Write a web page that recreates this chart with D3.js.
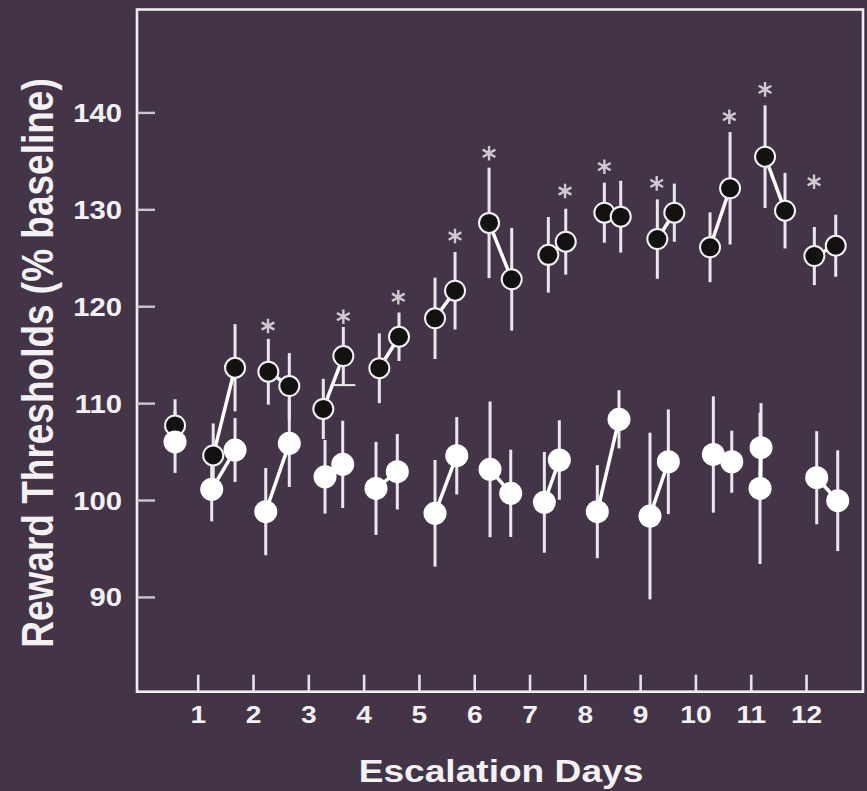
<!DOCTYPE html>
<html>
<head>
<meta charset="utf-8">
<script src="https://cdn.jsdelivr.net/npm/d3@7"></script>
<style>
  html, body { margin: 0; padding: 0; background: #433547; }
  #viz_container { width: 867px; height: 791px; }
  text { font-family: "Liberation Sans", Arial, Helvetica, sans-serif; font-weight: bold; }
</style>
</head>
<body>
<div id="viz_container"></div>
<script>
// Escalation days on x, thresholds in % of baseline on y
const dayTicks = [1, 2, 3, 4, 5, 6, 7, 8, 9, 10, 11, 12];
const yTickValues = [90, 100, 110, 120, 130, 140];

// baseline session (before escalation)
const baseDay = 0.59;
const baseEscMean = 107.7;
const baseEscSem = 2.7;
const baseCtlMean = 106.0;
const baseCtlSem = 3.2;

// escalation group (black dots), two sessions per day
const escDay = [1.28, 1.675, 2.277, 2.656, 3.271, 3.633, 4.284, 4.64, 5.291, 5.653, 6.268, 6.678,
  7.34, 7.655, 8.353, 8.649, 9.311, 9.618, 10.264, 10.626, 11.259, 11.62, 12.15, 12.537];
const escMean = [104.6, 113.65, 113.24, 111.76, 109.4, 114.86, 113.6, 116.85, 118.75, 121.6, 128.6, 122.78,
  125.3, 126.66, 129.65, 129.24, 126.93, 129.65, 126.08, 132.17, 135.43, 129.86, 125.18, 126.24];
const escSem = [3.3, 4.5, 3.4, 3.4, 3.1, 3.0, 3.6, 2.5, 4.2, 4.0, 5.7, 5.3,
  3.9, 3.4, 3.1, 3.7, 4.1, 3.0, 3.6, 5.8, 5.3, 3.9, 3.0, 3.2];

// control group (white dots)
const ctlDay = [1.253, 1.675, 2.23, 2.656, 3.302, 3.622, 4.224, 4.609, 5.291, 5.684, 6.286, 6.66,
  7.268, 7.539, 8.226, 8.618, 9.178, 9.51, 10.324, 10.657, 11.186, 11.168, 12.193, 12.573];
const ctlMean = [101.1, 105.16, 98.8, 105.85, 102.4, 103.68, 101.2, 102.92, 98.63, 104.57, 103.17, 100.69,
  99.76, 104.13, 98.8, 108.33, 98.35, 103.95, 104.7, 103.95, 105.4, 101.2, 102.3, 99.93];
const ctlSem = [3.3, 3.3, 4.5, 4.5, 3.8, 4.5, 4.8, 3.9, 5.5, 4.0, 7.0, 4.5,
  5.2, 4.1, 4.8, 3.0, 8.6, 5.4, 6.0, 3.2, 4.6, 7.8, 4.8, 5.2];

// significance asterisks
const starDay = [2.271, 3.633, 4.627, 5.653, 6.268, 7.642, 8.353, 9.3, 10.613, 11.259, 12.145];
const starValue = [117.96, 118.92, 120.92, 127.24, 135.78, 131.89, 134.4, 132.68, 139.56, 142.38, 132.85];

const width = 867;
const height = 791;
const plotLeft = 137, plotRight = 863, plotTop = 9.5, plotBottom = 691.7;

const svg = d3
  .select("#viz_container")
  .append("svg")
  .attr("width", width)
  .attr("height", height)
  .attr("viewBox", `0 0 ${width} ${height}`);

svg.append("rect").attr("width", width).attr("height", height).attr("fill", "#433547");

const x = d3.scaleLinear().domain([-0.098, 13.03]).range([plotLeft, plotRight]);
const y = d3.scaleLinear().domain([80.22, 150.62]).range([plotBottom, plotTop]);

// frame
svg
  .append("rect")
  .attr("x", plotLeft)
  .attr("y", plotTop)
  .attr("width", plotRight - plotLeft)
  .attr("height", plotBottom - plotTop)
  .attr("fill", "none")
  .attr("stroke", "#f1eef3")
  .attr("stroke-width", 2.6);

// y axis, ticks pointing inward
const yAxis = svg
  .append("g")
  .attr("transform", `translate(${plotLeft},0)`)
  .call(d3.axisLeft(y).tickValues(yTickValues).tickSizeInner(-18).tickSizeOuter(0).tickPadding(15));
yAxis.select(".domain").remove();
yAxis.selectAll("line").attr("stroke", "#cbc5ce").attr("stroke-width", 2.4);
yAxis
  .selectAll("text")
  .attr("x", -15 / 1.17)
  .attr("dy", "0.36em")
  .attr("transform", "scale(1.17,1)")
  .attr("fill", "#f3f1f4")
  .style("font-size", "25px")
  .style("font-family", "'Liberation Sans', Arial, sans-serif")
  .style("font-weight", "bold");

// x axis
const xAxis = svg
  .append("g")
  .attr("transform", `translate(0,${plotBottom})`)
  .call(d3.axisBottom(x).tickValues(dayTicks).tickSizeInner(-17).tickSizeOuter(0).tickPadding(14));
xAxis.select(".domain").remove();
xAxis.selectAll("line").attr("stroke", "#e6e2e8").attr("stroke-width", 2.6);
xAxis
  .selectAll("text")
  .attr("transform", "scale(1.17,1)")
  .attr("fill", "#f3f1f4")
  .style("font-size", "24px")
  .style("font-family", "'Liberation Sans', Arial, sans-serif")
  .style("font-weight", "bold");

// axis titles
svg
  .append("text")
  .attr("transform", "translate(501,782) scale(1.16,1)")
  .attr("text-anchor", "middle")
  .attr("fill", "#f3f1f4")
  .style("font-size", "32px")
  .text("Escalation Days");

svg
  .append("text")
  .attr("transform", "translate(52.5,363) scale(1.2,1) rotate(-90)")
  .attr("text-anchor", "middle")
  .attr("fill", "#f3f1f4")
  .style("font-size", "37px")
  .text("Reward Thresholds (% baseline)");

// build point tables
const esc = escDay.map((d, i) => ({ day: d, mean: escMean[i], sem: escSem[i] }));
const ctl = ctlDay.map((d, i) => ({ day: d, mean: ctlMean[i], sem: ctlSem[i] }));
const baseEsc = { day: baseDay, mean: baseEscMean, sem: baseEscSem };
const baseCtl = { day: baseDay, mean: baseCtlMean, sem: baseCtlSem };

const allPoints = [baseEsc, baseCtl].concat(esc, ctl);

const bars = svg.append("g");
const lines = svg.append("g");
const dots = svg.append("g");

bars
  .selectAll("line")
  .data(allPoints)
  .enter()
  .append("line")
  .attr("x1", (d) => x(d.day))
  .attr("x2", (d) => x(d.day))
  .attr("y1", (d) => y(d.mean + d.sem))
  .attr("y2", (d) => y(d.mean - d.sem))
  .attr("stroke", "#ebe8ed")
  .attr("stroke-width", 3);

// small cap under day 3, second session
const capPt = esc[5];
bars
  .append("line")
  .attr("x1", x(capPt.day) - 10)
  .attr("x2", x(capPt.day) + 12)
  .attr("y1", y(capPt.mean - capPt.sem))
  .attr("y2", y(capPt.mean - capPt.sem))
  .attr("stroke", "#ebe8ed")
  .attr("stroke-width", 2);

// connect the two sessions of each day
const pairs = (arr) => d3.range(arr.length / 2).map((i) => [arr[2 * i], arr[2 * i + 1]]);
const linePath = d3
  .line()
  .x((d) => x(d.day))
  .y((d) => y(d.mean));

lines
  .selectAll("path")
  .data(pairs(esc).concat(pairs(ctl)))
  .enter()
  .append("path")
  .attr("d", linePath)
  .attr("fill", "none")
  .attr("stroke", "#ffffff")
  .attr("stroke-width", 3.5);

// black dots
dots
  .selectAll("circle.esc")
  .data([baseEsc].concat(esc))
  .enter()
  .append("circle")
  .attr("class", "esc")
  .attr("cx", (d) => x(d.day))
  .attr("cy", (d) => y(d.mean))
  .attr("r", 10)
  .attr("fill", "#141210")
  .attr("stroke", "#f4f2f5")
  .attr("stroke-width", 2);

// white dots
dots
  .selectAll("circle.ctl")
  .data([baseCtl].concat(ctl))
  .enter()
  .append("circle")
  .attr("class", "ctl")
  .attr("cx", (d) => x(d.day))
  .attr("cy", (d) => y(d.mean))
  .attr("r", 11.5)
  .attr("fill", "#ffffff");

// asterisks
const starPath = (() => {
  const r = 7.3;
  let p = "";
  [90, 30, 150].forEach((a) => {
    const dx = r * Math.cos((a * Math.PI) / 180);
    const dy = r * Math.sin((a * Math.PI) / 180);
    p += `M${-dx},${-dy}L${dx},${dy}`;
  });
  return p;
})();

svg
  .append("g")
  .selectAll("path")
  .data(starDay.map((d, i) => ({ day: d, value: starValue[i] })))
  .enter()
  .append("path")
  .attr("transform", (d) => `translate(${x(d.day)},${y(d.value)})`)
  .attr("d", starPath)
  .attr("fill", "none")
  .attr("stroke", "#cfcad2")
  .attr("stroke-width", 2.4);
</script>
</body>
</html>
